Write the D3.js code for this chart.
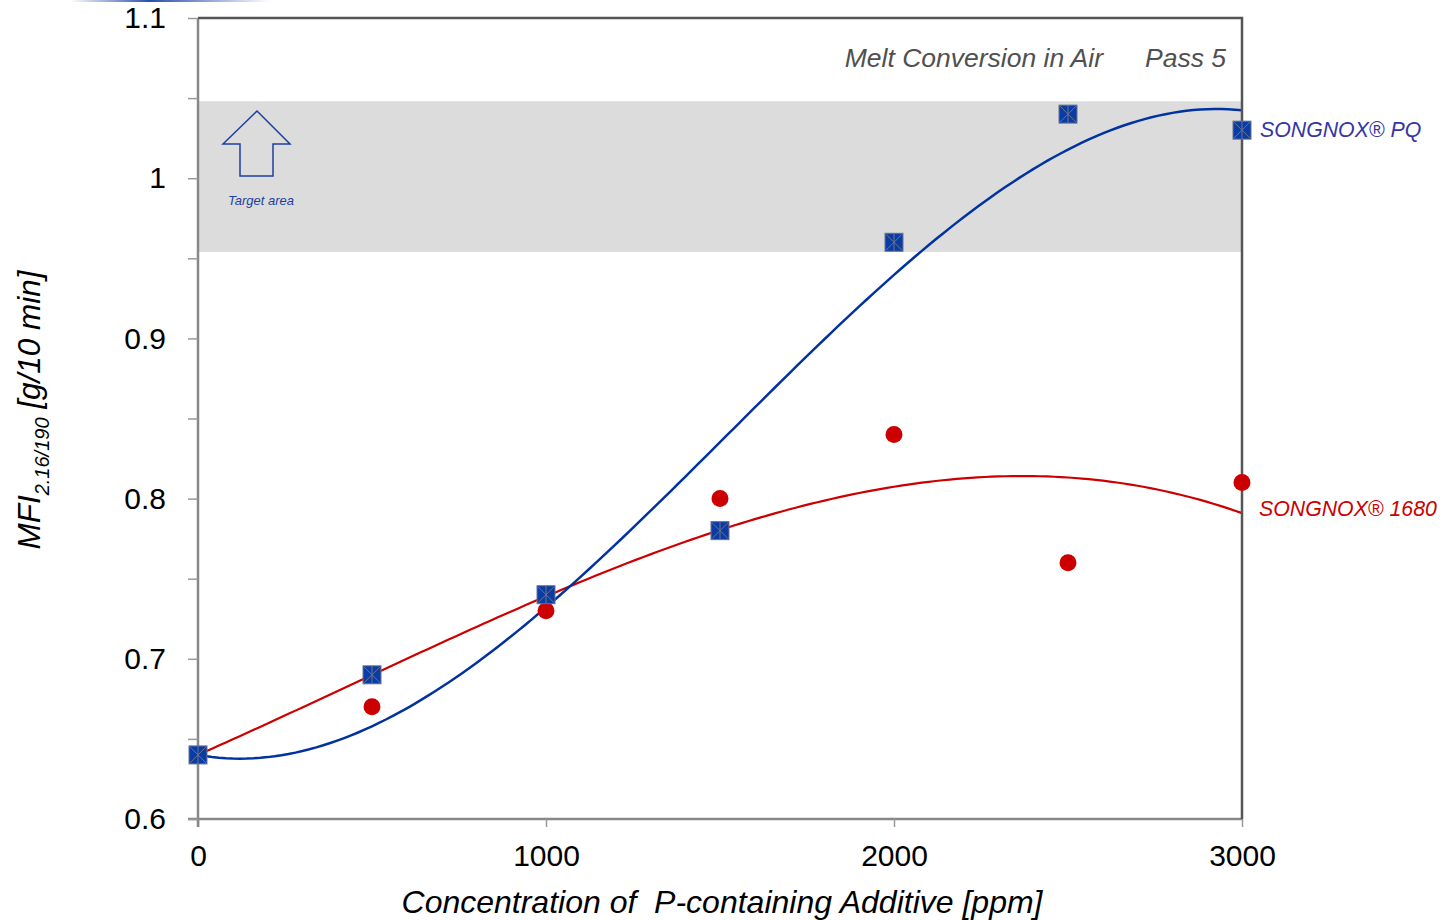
<!DOCTYPE html>
<html lang="en">
<head>
<meta charset="UTF-8">
<title>MFI vs concentration</title>
<script src="https://d3js.org/d3.v7.min.js"></script>
<style>
  body { margin: 0; background: #fff; }
  svg { font-family: Arial, "Liberation Sans", sans-serif; }
</style>
</head>
<body>
<svg></svg>
<script>
const concentrations = [0, 500, 1000, 1500, 2000, 2500, 3000];
const pqValues = [0.64, 0.69, 0.74, 0.78, 0.96, 1.04, 1.03];
const s1680Values = [0.64, 0.67, 0.73, 0.80, 0.84, 0.76, 0.81];
const xTicks = [0, 1000, 2000, 3000];
const yTicks = [0.6, 0.7, 0.8, 0.9, 1.0, 1.1];
const targetBand = [0.954, 1.048];
const trendIntercept = 0.64;

const width = 1452, height = 920;
const margin = {top: 18, right: 210, bottom: 101, left: 198};

const svg = d3.select('svg').attr('width', width).attr('height', height);

const x = d3.scaleLinear().domain([0, 3000]).range([margin.left, width - margin.right]);
const y = d3.scaleLinear().domain([0.6, 1.1]).range([height - margin.bottom, margin.top]);

// faint header stroke at top left
const grad = svg.append('defs').append('linearGradient').attr('id', 'hdr');
grad.append('stop').attr('offset', '0%').attr('stop-color', '#fff');
grad.append('stop').attr('offset', '40%').attr('stop-color', '#2a4fb0');
grad.append('stop').attr('offset', '100%').attr('stop-color', '#fff');
svg.append('rect').attr('x', 70).attr('y', 0).attr('width', 200).attr('height', 2).attr('fill', 'url(#hdr)');

// target band
svg.append('rect')
  .attr('x', x(0)).attr('width', x(3000) - x(0))
  .attr('y', y(targetBand[1])).attr('height', y(targetBand[0]) - y(targetBand[1]))
  .attr('fill', '#dcdcdc');

// polynomial trend, order 3, intercept fixed (least squares on t, t^2, t^3)
function polyfitFixed(xs, ys, b0, deg) {
  const n = deg;
  const A = Array.from({length: n}, () => new Array(n + 1).fill(0));
  xs.forEach((xv, k) => {
    for (let i = 0; i < n; i++) {
      for (let j = 0; j < n; j++) A[i][j] += Math.pow(xv, i + j + 2);
      A[i][n] += (ys[k] - b0) * Math.pow(xv, i + 1);
    }
  });
  for (let i = 0; i < n; i++) {
    let p = i;
    for (let r = i + 1; r < n; r++) if (Math.abs(A[r][i]) > Math.abs(A[p][i])) p = r;
    [A[i], A[p]] = [A[p], A[i]];
    for (let r = 0; r < n; r++) {
      if (r === i) continue;
      const f = A[r][i] / A[i][i];
      for (let c = i; c <= n; c++) A[r][c] -= f * A[i][c];
    }
  }
  return [b0].concat(A.map((row, i) => row[n] / row[i]));
}
function trend(vals) {
  const xs = concentrations.map(d => d / 1000);
  const c = polyfitFixed(xs, vals, trendIntercept, 3);
  return d3.range(0, 3001, 20).map(v => {
    const t = v / 1000;
    return [v, c[0] + c[1] * t + c[2] * t * t + c[3] * t * t * t];
  });
}
const line = d3.line().x(d => x(d[0])).y(d => y(d[1]));

svg.append('path').datum(trend(s1680Values)).attr('d', line)
  .attr('fill', 'none').attr('stroke', '#cc0000').attr('stroke-width', 2.2);
svg.append('path').datum(trend(pqValues)).attr('d', line)
  .attr('fill', 'none').attr('stroke', '#0033a0').attr('stroke-width', 2.5);

// axes
svg.append('g')
  .attr('transform', `translate(0,${y(0.6)})`)
  .call(d3.axisBottom(x).tickValues(xTicks).tickSize(8).tickFormat(d3.format('d')))
  .call(g => g.select('.domain').attr('stroke', '#888').attr('stroke-width', 2.5).attr('d', `M${x(0) - 10},0H${x(3000)}`))
  .call(g => g.selectAll('.tick line').attr('stroke', '#999').attr('stroke-width', 1.5))
  .call(g => g.selectAll('.tick text').attr('font-size', 30).attr('fill', '#000').attr('dy', '1.2em'));

svg.append('g')
  .attr('transform', `translate(${x(0)},0)`)
  .call(d3.axisLeft(y).tickValues(d3.range(0.6, 1.101, 0.05)).tickSize(10)
    .tickFormat(d => yTicks.some(t => Math.abs(t - d) < 1e-6) ? d3.format('.1~f')(d).replace('1.0', '1') : ''))
  .call(g => g.select('.domain').attr('stroke', '#888').attr('stroke-width', 2.5).attr('d', `M0,${y(0.6) + 8}V${y(1.1)}`))
  .call(g => g.selectAll('.tick line').attr('stroke', '#999').attr('stroke-width', 1.5))
  .call(g => g.selectAll('.tick text').attr('font-size', 30).attr('fill', '#000').attr('x', -32));

// frame top and right
svg.append('path')
  .attr('d', `M${x(0)},${y(1.1)}H${x(3000)}V${y(0.6)}`)
  .attr('fill', 'none').attr('stroke', '#555').attr('stroke-width', 2.5);

// markers
svg.selectAll('circle.s1680').data(concentrations).join('circle')
  .attr('class', 's1680')
  .attr('cx', d => x(d)).attr('cy', (d, i) => y(s1680Values[i])).attr('r', 8.5)
  .attr('fill', '#cc0000');

const sq = svg.selectAll('g.pq').data(concentrations).join('g')
  .attr('class', 'pq')
  .attr('transform', (d, i) => `translate(${x(d)},${y(pqValues[i])})`);
sq.append('rect').attr('x', -9).attr('y', -9).attr('width', 18).attr('height', 18)
  .attr('fill', '#0a3ca6').attr('stroke', '#6a7390').attr('stroke-width', 1);
sq.append('path').attr('d', 'M-8,-8L8,8M8,-8L-8,8M0,-9V9')
  .attr('stroke', '#6f7380').attr('stroke-width', 1);

// annotations
svg.append('text').attr('x', 1103).attr('y', 67).attr('text-anchor', 'end')
  .attr('font-size', 26.5).attr('font-style', 'italic').attr('fill', '#505050')
  .text('Melt Conversion in Air');
svg.append('text').attr('x', 1226).attr('y', 67).attr('text-anchor', 'end')
  .attr('font-size', 26.5).attr('font-style', 'italic').attr('fill', '#505050')
  .text('Pass 5');

svg.append('text').attr('x', 1260).attr('y', y(1.03) + 7)
  .attr('font-size', 21.3).attr('font-style', 'italic').attr('fill', '#3535a5')
  .text('SONGNOX® PQ');
svg.append('text').attr('x', 1259).attr('y', 516)
  .attr('font-size', 21.3).attr('font-style', 'italic').attr('fill', '#cc0000')
  .text('SONGNOX® 1680');

// target arrow
svg.append('path')
  .attr('d', 'M257,111L290,144H273V176H240V144H223Z')
  .attr('fill', 'none').attr('stroke', '#1f3fa0').attr('stroke-width', 1.5);
svg.append('text').attr('x', 228).attr('y', 205)
  .attr('font-size', 13).attr('font-style', 'italic').attr('fill', '#1f3fa0')
  .text('Target area');

// axis titles
svg.append('text').attr('x', 722).attr('y', 913).attr('text-anchor', 'middle')
  .attr('font-size', 32).attr('font-style', 'italic').attr('fill', '#000')
  .attr('xml:space', 'preserve')
  .text('Concentration of  P-containing Additive [ppm]');

const yl = svg.append('text')
  .attr('transform', 'translate(40,410) rotate(-90)')
  .attr('text-anchor', 'middle')
  .attr('font-size', 31.5).attr('font-style', 'italic').attr('fill', '#000');
yl.append('tspan').text('MFI');
yl.append('tspan').attr('font-size', 20).attr('dy', 9).text('2.16/190');
yl.append('tspan').attr('dy', -9).text(' [g/10 min]');
</script>
</body>
</html>
